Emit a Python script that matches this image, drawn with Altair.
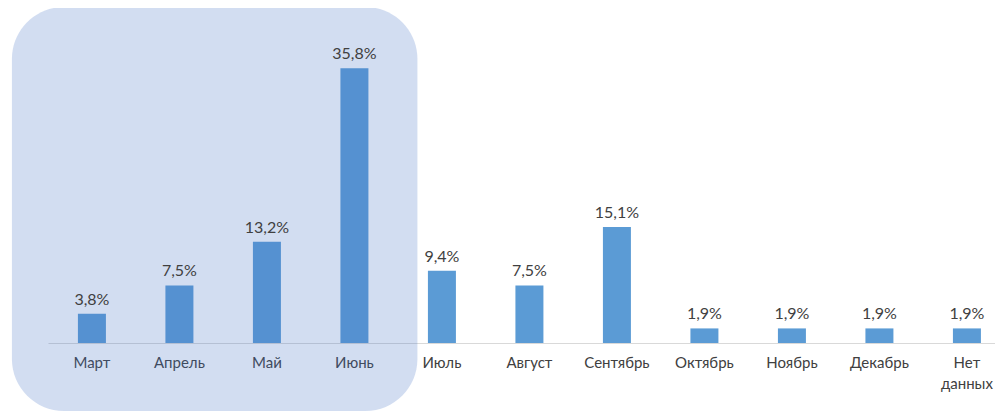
import altair as alt
import pandas as pd

months = ["Март", "Апрель", "Май", "Июнь", "Июль", "Август", "Сентябрь",
          "Октябрь", "Ноябрь", "Декабрь", "Нет данных"]
shares = [3.8, 7.5, 13.2, 35.8, 9.4, 7.5, 15.1, 1.9, 1.9, 1.9, 1.9]
labels = [f"{v:.1f}%".replace(".", ",") for v in shares]
highlight_from = ["Март"]
highlight_to = ["Июнь"]

df = pd.DataFrame({"month": months, "share": shares, "label": labels})
hl = pd.DataFrame({"month": highlight_from, "month_end": highlight_to})

FONT = "Lato"
TXT = "#404040"

xscale = alt.Scale(domain=months, paddingInner=0.68, paddingOuter=0.2514,
                   align=0.68, round=False)
xaxis = alt.Axis(title=None, labelAngle=0, ticks=False, tickSize=0, labelPadding=12,
                 domainColor="#D9D9D9", domainWidth=1, grid=False,
                 labelFont=FONT, labelFontSize=15, labelColor=TXT, labelLineHeight=21,
                 labelExpr="datum.value == 'Нет данных' ? ['Нет', 'данных'] : datum.label")
x = alt.X("month:N", scale=xscale, sort=months, axis=xaxis)
y = alt.Y("share:Q", scale=alt.Scale(domain=[0, 40], nice=False, zero=True), axis=None)

bars = alt.Chart(df).mark_bar(color="#5B9BD5").encode(x=x, y=y)

highlight = alt.Chart(hl).mark_rect(
    color="#4472C4", opacity=0.24, cornerRadius=52, xOffset=-66, x2Offset=49
).encode(
    x=alt.X("month:N", scale=xscale, axis=xaxis, bandPosition=0),
    x2=alt.X2("month_end:N", bandPosition=1),
    y=alt.value(-29),
    y2=alt.value(375),
)

text = alt.Chart(df).mark_text(
    baseline="alphabetic", dy=-9, font=FONT, fontSize=16, color=TXT
).encode(x=x, y=y, text="label:N")

chart = alt.layer(bars, highlight, text).properties(
    width=947, height=307,
    padding={"left": 40, "top": 28, "right": 0, "bottom": 68},
    autosize=alt.AutoSizeParams(type="none"),
).configure_view(stroke=None)

chart.save("out.html", embed_options={"renderer": "svg", "actions": False})
